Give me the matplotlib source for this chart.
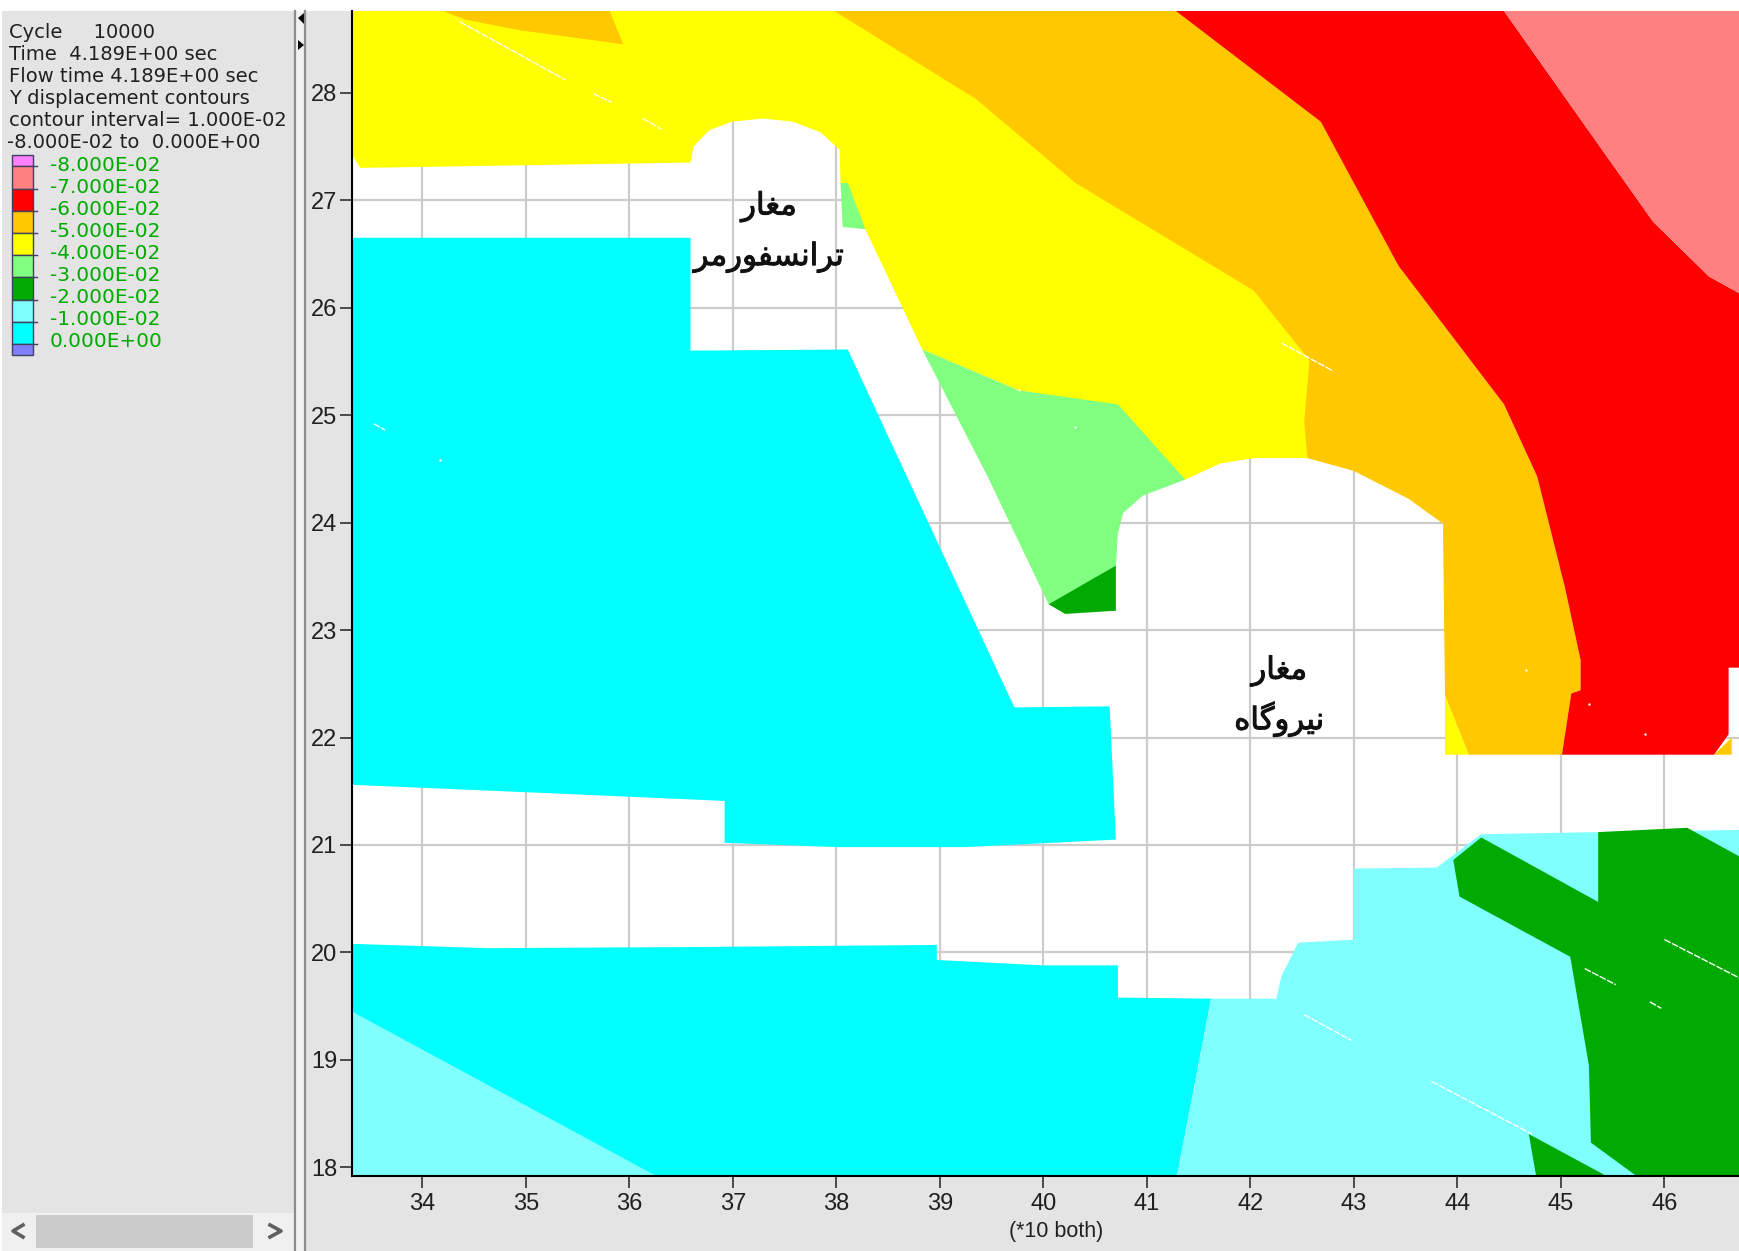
import matplotlib
matplotlib.use('Agg')
from matplotlib import pyplot as plt
from matplotlib import patheffects
from matplotlib.patches import Rectangle

plt.rcParams['font.family'] = ['Liberation Sans', 'DejaVu Sans']

# contour colours, same as the legend
PINK, SALMON, RED, ORANGE, YELLOW = '#ff80ff', '#ff8080', '#ff0000', '#ffc800', '#ffff00'
LGREEN, DGREEN, LCYAN, CYAN, BLUE = '#80ff80', '#00aa00', '#80ffff', '#00ffff', '#8080ff'

# header text of the left panel
info_lines = ['Cycle     10000', 'Time  4.189E+00 sec', 'Flow time 4.189E+00 sec',
              'Y displacement contours', 'contour interval= 1.000E-02',
              '-8.000E-02 to  0.000E+00']
legend_labels = ['-8.000E-02', '-7.000E-02', '-6.000E-02', '-5.000E-02', '-4.000E-02',
                 '-3.000E-02', '-2.000E-02', '-1.000E-02', '0.000E+00']
legend_colors = [PINK, SALMON, RED, ORANGE, YELLOW, LGREEN, DGREEN, LCYAN, CYAN, BLUE]

x_ticks = list(range(34, 47))
y_ticks = list(range(18, 29))

# contour zones (x, y in axis units), later ones paint over earlier ones
yellow_top = [(33.32, 28.76), (38.1, 28.76), (44.0, 28.76), (43.86, 25.5), (42.55, 24.60), (42.03, 24.60),
              (41.71, 24.55), (41.37, 24.40), (41.0, 24.6), (40.64, 25.10), (39.76, 25.23), (38.83, 25.61),
              (38.28, 26.73), (38.22, 26.75), (38.04, 27.16), (38.03, 27.47), (37.85, 27.63),
              (37.58, 27.73), (37.29, 27.76), (36.99, 27.73), (36.77, 27.65), (36.62, 27.50),
              (36.59, 27.35), (33.40, 27.30), (33.32, 27.42)]
orange_patch = [(34.20, 28.76), (35.81, 28.76), (35.94, 28.45), (34.95, 28.58), (34.41, 28.68)]
orange_main = [(37.98, 28.76), (39.35, 27.94), (40.31, 27.16), (42.03, 26.16), (42.57, 25.51),
               (42.52, 24.94), (42.55, 24.60), (43.00, 24.48), (43.53, 24.22), (43.86, 23.99),
               (43.88, 22.39), (44.11, 21.84), (45.01, 21.84), (45.10, 22.41), (45.19, 22.44),
               (45.19, 22.72), (45.04, 23.39), (44.77, 24.43), (44.45, 25.10), (43.43, 26.39),
               (42.68, 27.73), (41.28, 28.76)]
yellow_foot = [(43.88, 22.39), (44.11, 21.84), (43.88, 21.84)]
red_main = [(41.28, 28.76), (42.68, 27.73), (43.43, 26.39), (44.45, 25.10), (44.77, 24.43),
            (45.04, 23.39), (45.19, 22.72), (45.19, 22.44), (45.10, 22.41), (45.01, 21.84),
            (46.48, 21.84), (46.62, 22.03), (46.62, 22.65), (46.73, 22.65), (46.73, 26.13),
            (46.43, 26.29), (45.89, 26.80), (45.36, 27.52), (44.45, 28.76)]
orange_corner = [(46.48, 21.84), (46.65, 22.00), (46.65, 21.84)]
salmon_corner = [(44.45, 28.76), (45.36, 27.52), (45.89, 26.80), (46.43, 26.29), (46.73, 26.13),
                 (46.73, 28.76)]
lgreen_main = [(38.83, 25.61), (39.76, 25.23), (40.72, 25.10), (41.37, 24.40), (40.96, 24.25),
               (40.77, 24.09), (40.72, 23.90), (40.70, 23.60), (40.05, 23.24), (39.46, 24.43)]
dgreen_small = [(40.05, 23.24), (40.70, 23.60), (40.70, 23.18), (40.21, 23.15)]
lgreen_small = [(38.04, 27.16), (38.11, 27.16), (38.28, 26.73), (38.06, 26.75)]
cyan_left = [(33.32, 26.65), (36.59, 26.65), (36.59, 25.60), (38.11, 25.61), (39.72, 22.28),
             (40.64, 22.29), (40.70, 21.05), (39.24, 20.98), (38.01, 20.98), (36.92, 21.02),
             (36.92, 21.41), (35.27, 21.48), (33.32, 21.56)]
cyan_bottom = [(33.32, 20.08), (34.63, 20.04), (36.56, 20.05), (38.97, 20.07), (38.97, 19.93),
               (39.99, 19.88), (40.72, 19.88), (40.72, 19.58), (41.62, 19.57), (41.29, 17.92),
               (33.32, 17.92)]
lcyan_left = [(33.32, 19.45), (36.26, 17.92), (33.32, 17.92)]
lcyan_right = [(41.62, 19.57), (42.25, 19.57), (42.30, 19.78), (42.46, 20.09), (43.00, 20.12),
               (43.00, 20.78), (43.80, 20.79), (44.23, 21.10), (45.36, 21.12), (46.73, 21.14),
               (46.73, 17.92), (41.29, 17.92)]
dgreen_right = [(43.96, 20.86), (44.23, 21.07), (45.36, 20.47), (45.36, 21.12), (46.22, 21.16),
                (46.73, 20.89), (46.73, 17.92), (45.73, 17.92), (45.29, 18.23), (45.27, 18.95),
                (45.09, 19.96), (44.02, 20.52)]
dgreen_foot = [(44.69, 18.31), (45.44, 17.92), (44.76, 17.92)]

zones = [(yellow_top, YELLOW), (orange_patch, ORANGE), (orange_main, ORANGE), (yellow_foot, YELLOW),
         (red_main, RED), (orange_corner, ORANGE), (salmon_corner, SALMON),
         (lgreen_main, LGREEN), (dgreen_small, DGREEN), (lgreen_small, LGREEN),
         (cyan_left, CYAN), (cyan_bottom, CYAN), (lcyan_left, LCYAN), (lcyan_right, LCYAN),
         (dgreen_right, DGREEN), (dgreen_foot, DGREEN)]

# thin white cracks and specks in the filled zones
cracks = [((34.36, 35.38), (28.66, 28.12)), ((35.65, 35.83), (27.99, 27.91)),
          ((36.13, 36.31), (27.76, 27.66)), ((42.30, 42.80), (25.67, 25.41)),
          ((42.52, 42.98), (19.42, 19.18)), ((43.75, 44.72), (18.80, 18.31)),
          ((46.00, 46.73), (20.12, 19.76)), ((45.23, 45.53), (19.85, 19.70)),
          ((45.86, 45.97), (19.54, 19.48)), ((33.53, 33.64), (24.92, 24.86))]
specks_x = [34.17, 40.31, 39.76, 44.66, 45.27, 45.81]
specks_y = [24.58, 24.89, 25.23, 22.63, 22.31, 22.03]

# arabic text is written in presentation forms, reversed because matplotlib does no shaping
cave = '\uFEE3\uFED0\uFE8E\uFEAD'[::-1]
transformer = '\uFE97\uFEAE\uFE8D\uFEE7\uFEB4\uFED4\uFEEE\uFEAD\uFEE3\uFEAE'[::-1]
powerhouse = '\uFEE7\uFBFF\uFEAE\uFEED\uFB94\uFE8E\uFEE9'[::-1]

fig = plt.figure(figsize=(17.4, 12.51), dpi=100, facecolor='white')

# window background in pixel coordinates
bg = fig.add_axes([0, 0, 1, 1])
bg.set_xlim(0, 1740)
bg.set_ylim(1251, 0)
bg.axis('off')
bg.add_patch(Rectangle((2, 11), 1738, 1240, color='#e4e4e4', lw=0))
bg.add_patch(Rectangle((295, 11), 10, 1240, color='#f2f2f2', lw=0))
bg.plot([295, 295], [11, 1251], color='#8c8c8c', lw=1.6)
bg.plot([305, 305], [11, 1251], color='#8c8c8c', lw=1.6)
bg.fill([304, 304, 298], [13, 24, 18], color='black', lw=0)
bg.fill([298, 298, 304], [40, 50, 45], color='black', lw=0)

# scrollbar of the panel
bg.add_patch(Rectangle((2, 1213), 292, 38, color='#f0f0f0', lw=0))
bg.add_patch(Rectangle((36, 1215), 217, 33, color='#cbcbcb', lw=0))
bg.plot([23, 13, 23], [1225, 1231, 1237], color='#606060', lw=2.6)
bg.plot([270, 281, 270], [1225, 1231, 1237], color='#606060', lw=2.6)

for i, line in enumerate(info_lines):
    bg.text(9 if i != 5 else 7, 33 + i * 22, line, fontsize=14, color='#202020', va='center',
            family='DejaVu Sans')

# legend colour bar
edges = [155, 166, 189, 211, 233, 255, 277, 300, 322, 344, 355]
for i, c in enumerate(legend_colors):
    bg.add_patch(Rectangle((12, edges[i]), 21, edges[i + 1] - edges[i], facecolor=c,
                           edgecolor='#404060', lw=1))
for i, label in enumerate(legend_labels):
    bg.plot([33, 37], [edges[i + 1]] * 2, color='#404060', lw=1)
    bg.text(50, 165.5 + i * 22, label, fontsize=14.4, color='#00aa00', va='center',
            family='DejaVu Sans')

ax = fig.add_axes([352 / 1740, (1251 - 1176) / 1251, 1 - 352 / 1740, (1176 - 11) / 1251])
ax.set_xlim(33.32, 46.73)
ax.set_ylim(17.92, 28.76)
ax.set_facecolor('white')
ax.set_xticks(x_ticks)
ax.set_yticks(y_ticks)
ax.grid(True, color='#cccccc', lw=1.6)
ax.set_axisbelow(True)
ax.tick_params(length=8.5, width=1.1, labelsize=17, pad=2, color='#202020', labelcolor='#202020')
ax.tick_params(axis='x', pad=4)
ax.spines['top'].set_visible(False)
ax.spines['right'].set_visible(False)
ax.spines['left'].set_linewidth(1.5)
ax.spines['bottom'].set_linewidth(1.5)
ax.set_xlabel('(*10 both)', fontsize=15.5, color='#202020')
ax.xaxis.set_label_coords((1056 - 352) / 1388, -0.0385)

for pts, color in zones:
    ax.fill([p[0] for p in pts], [p[1] for p in pts], color=color, lw=0, zorder=2)

for xs, ys in cracks:
    ax.plot(xs, ys, color='white', lw=1, ls=(0, (5, 1)), zorder=3)
ax.scatter(specks_x, specks_y, s=3, color='white', lw=0, zorder=3)

thicker = [patheffects.withStroke(linewidth=0.7, foreground='#111111')]
for x, y, label in [(37.35, 26.94, cave), (37.35, 26.47, transformer),
                    (42.28, 22.62, cave), (42.28, 22.17, powerhouse)]:
    ax.text(x, y, label, fontsize=22.2, ha='center', va='center', color='#111111',
            family='DejaVu Sans', zorder=4, path_effects=thicker)

fig.savefig('out.png', dpi=100)
